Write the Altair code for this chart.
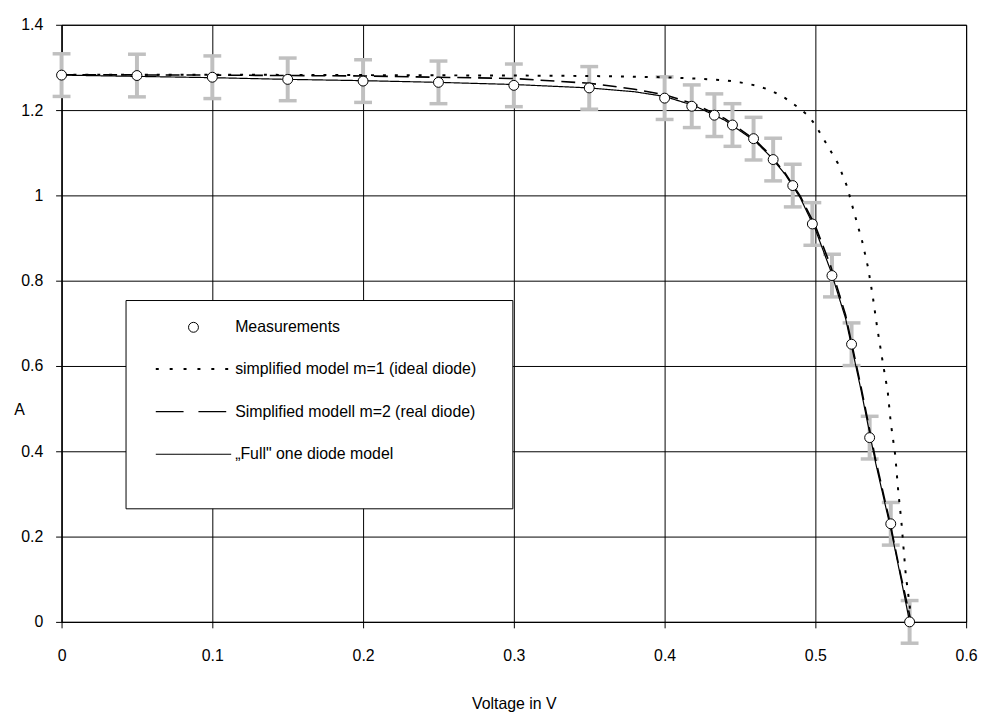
import altair as alt
import pandas as pd

FONT = "Liberation Sans"

# ---------------- data ----------------
SER_M = "Measurements"
SER_1 = "simplified model m=1 (ideal diode)"
SER_2 = "Simplified modell m=2 (real diode)"
SER_F = "\u201eFull\" one diode model"

meas_v = [0.0, 0.05, 0.10, 0.15, 0.20, 0.25, 0.30, 0.35, 0.40, 0.418, 0.433,
          0.445, 0.459, 0.472, 0.485, 0.498, 0.511, 0.524, 0.536, 0.550, 0.5625]
meas_i = [1.282, 1.281, 1.277, 1.272, 1.268, 1.265, 1.258, 1.252, 1.228, 1.209, 1.188,
          1.165, 1.133, 1.084, 1.023, 0.933, 0.812, 0.651, 0.432, 0.230, 0.0]
meas_err = [0.05, 0.05, 0.05, 0.05, 0.05, 0.05, 0.05, 0.05, 0.05, 0.05, 0.05,
            0.05, 0.05, 0.05, 0.05, 0.05, 0.05, 0.05, 0.05, 0.05, 0.05]

m1_v = [0.0, 0.10, 0.20, 0.30, 0.35, 0.40, 0.42, 0.44, 0.45, 0.46, 0.47, 0.48, 0.4875,
        0.495, 0.50, 0.505, 0.51, 0.515, 0.521, 0.526, 0.531, 0.535, 0.538, 0.541,
        0.545, 0.548, 0.55, 0.553, 0.555, 0.557, 0.5585, 0.56, 0.5625, 0.5635]
m1_i = [1.283, 1.283, 1.282, 1.281, 1.280, 1.277, 1.274, 1.270, 1.265, 1.258, 1.247, 1.228, 1.209,
        1.188, 1.165, 1.135, 1.105, 1.075, 1.021, 0.956, 0.893, 0.830, 0.765, 0.690,
        0.602, 0.540, 0.467, 0.390, 0.305, 0.237, 0.172, 0.109, 0.040, 0.0]

m2_v = [0.0, 0.10, 0.20, 0.30, 0.35, 0.38, 0.40, 0.42, 0.44, 0.46, 0.47, 0.48, 0.49,
        0.50, 0.51, 0.52, 0.53, 0.54, 0.55, 0.556, 0.5635]
m2_i = [1.283, 1.282, 1.280, 1.274, 1.263, 1.249, 1.236, 1.214, 1.180, 1.130, 1.095, 1.052, 0.998,
        0.928, 0.836, 0.720, 0.556, 0.380, 0.225, 0.120, 0.0]

full_v = [0.0, 0.05, 0.10, 0.15, 0.20, 0.25, 0.30, 0.35, 0.38, 0.40, 0.42, 0.44, 0.46,
          0.47, 0.48, 0.49, 0.50, 0.51, 0.52, 0.53, 0.54, 0.55, 0.556, 0.5625]
full_i = [1.282, 1.279, 1.276, 1.272, 1.269, 1.265, 1.260, 1.252, 1.243, 1.232, 1.210, 1.176, 1.127,
          1.092, 1.049, 0.994, 0.920, 0.825, 0.712, 0.548, 0.372, 0.218, 0.115, 0.0]

x_ticks = [0, 0.1, 0.2, 0.3, 0.4, 0.5, 0.6]
y_ticks = [0, 0.2, 0.4, 0.6, 0.8, 1.0, 1.2, 1.4]

# ---------------- styles ----------------
SERIES = [SER_1, SER_2, SER_F]
DASHES = [[3, 9], [14, 7], [1, 0]]
LEGEND_DASHES = [[3, 11], [28, 15], [1, 0]]
WIDTHS = [2, 1.2, 1.2]
ERR_GREY = "#c0c0c0"

# ---------------- tables ----------------
meas_df = pd.DataFrame({
    "v": meas_v,
    "i": meas_i,
    "lo": [a - e for a, e in zip(meas_i, meas_err)],
    "hi": [a + e for a, e in zip(meas_i, meas_err)],
})
lines_df = pd.concat([
    pd.DataFrame({"v": m1_v, "i": m1_i, "series": SER_1}),
    pd.DataFrame({"v": m2_v, "i": m2_i, "series": SER_2}),
    pd.DataFrame({"v": full_v, "i": full_i, "series": SER_F}),
], ignore_index=True)

xscale = alt.Scale(domain=[0, 0.6], nice=False)
yscale = alt.Scale(domain=[0, 1.4], nice=False)
x_axis = alt.Axis(values=x_ticks, format="~g", title="Voltage in V", titleY=82,
                  titleBaseline="middle", labelPadding=20, labelFlush=False,
                  labelOverlap=False)
y_axis = alt.Axis(values=y_ticks, format="~g", title="A", titleAngle=0, titleX=-43,
                  titleY=388, titleAlign="center", titleBaseline="middle", labelPadding=13,
                  labelFlush=False, labelOverlap=False)


def X():
    return alt.X("v:Q", scale=xscale, axis=x_axis)


def Y(field):
    return alt.Y(f"{field}:Q", scale=yscale, axis=y_axis)


base_m = alt.Chart(meas_df)

err_rule = base_m.mark_rule(color=ERR_GREY, strokeWidth=4).encode(
    x=X(), y=Y("lo"), y2="hi")
cap_lo = base_m.mark_tick(color=ERR_GREY, orient="horizontal", size=18, thickness=3.5,
                          opacity=1).encode(x=X(), y=Y("lo"))
cap_hi = base_m.mark_tick(color=ERR_GREY, orient="horizontal", size=18, thickness=3.5,
                          opacity=1).encode(x=X(), y=Y("hi"))

lines = alt.Chart(lines_df).mark_line(color="black").encode(
    x=X(), y=Y("i"),
    strokeDash=alt.StrokeDash("series:N", scale=alt.Scale(domain=SERIES, range=DASHES),
                              legend=None),
    strokeWidth=alt.StrokeWidth("series:N", scale=alt.Scale(domain=SERIES, range=WIDTHS),
                                legend=None),
    order="v:Q",
)

points = base_m.mark_point(filled=False, color="black", fill="white", fillOpacity=1,
                           strokeWidth=1, size=100, opacity=1, shape="circle").encode(
    x=X(), y=Y("i"))

# ---------------- legend (drawn as a framed box, like the original) ----------------
one = pd.DataFrame({"k": [0]})
legend_layers = [
    alt.Chart(one).mark_rect(fill="white", stroke="black", strokeWidth=1).encode(
        x=alt.value(65), x2=alt.value(455), y=alt.value(278), y2=alt.value(488)),
    alt.Chart(one).mark_point(filled=False, color="black", fill="white", fillOpacity=1,
                              strokeWidth=1, size=100, opacity=1, shape="circle").encode(
        x=alt.value(133), y=alt.value(305)),
]
row_y = [305, 347, 390, 433]
for k, (name, dash, w) in enumerate(zip(SERIES, LEGEND_DASHES, WIDTHS)):
    legend_layers.append(
        alt.Chart(one).mark_rule(color="black", strokeWidth=w, strokeDash=dash).encode(
            x=alt.value(95), x2=alt.value(171), y=alt.value(row_y[k + 1])))
for k, name in enumerate([SER_M] + SERIES):
    legend_layers.append(
        alt.Chart(one).mark_text(text=name, align="left", baseline="middle", font=FONT,
                                 fontSize=16, color="black").encode(
            x=alt.value(175), y=alt.value(row_y[k])))

chart = alt.layer(err_rule, cap_lo, cap_hi, lines, points, *legend_layers).properties(
    width=912, height=602,
    autosize=alt.AutoSizeParams(type="none"),
    padding={"left": 54, "top": 14, "right": 17, "bottom": 96},
    background="white",
).configure_axis(
    grid=True, gridColor="black", gridOpacity=1, gridWidth=1,
    domainColor="black", domainWidth=1, tickColor="black", tickSize=6, tickWidth=1,
    labelFont=FONT, labelFontSize=16, labelColor="black",
    titleFont=FONT, titleFontSize=16, titleFontWeight="normal", titleColor="black",
).configure_view(stroke="black", strokeWidth=1)

chart.save("out.html", embed_options={"renderer": "svg", "actions": False})
